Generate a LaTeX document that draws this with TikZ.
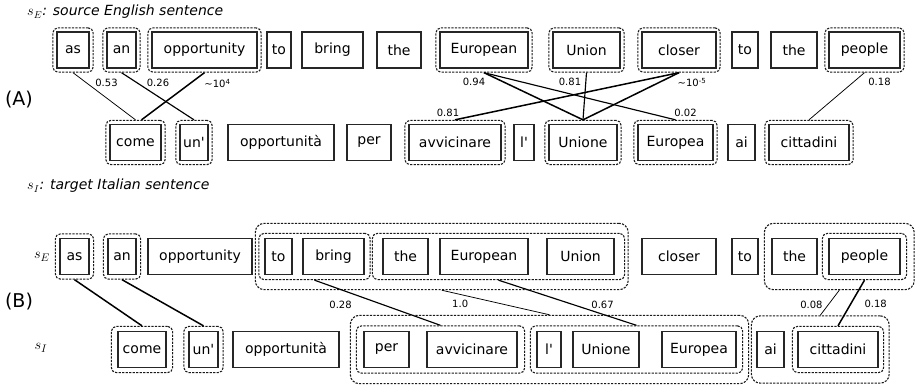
\documentclass[tikz,border=0pt]{standalone}
\usepackage{fontspec}
\setmainfont{DejaVu Sans}
\usepackage{tikz}
\usetikzlibrary{fit}
\tikzset{
  word/.style={rectangle, draw=black!85, line width=1.25pt, minimum height=36pt,
               inner sep=0pt, font=\fontsize{14}{16}\selectfont},
  grp/.style={rectangle, draw=black!90, line width=1.1pt, dash pattern=on 2.2pt off 1.3pt,
              rounded corners=5pt, inner sep=3.5pt},
  biggrp/.style={grp, rounded corners=9pt},
  link/.style={line width=0.75pt},
  mid/.style={line width=1.15pt},
  strong/.style={line width=1.5pt},
  lbl/.style={font=\fontsize{10}{12}\selectfont, inner sep=0pt},
  title/.style={font=\fontsize{14}{16}\selectfont\itshape, anchor=west, inner sep=0pt},
  panel/.style={font=\fontsize{19}{22}\selectfont, inner sep=0pt},
  side/.style={font=\fontsize{15}{17}\selectfont, inner sep=0pt},
}
\begin{document}
\begin{tikzpicture}[x=1pt, y=-1pt]
  \useasboundingbox (0,0) rectangle (916,386);

  % (A) word-level alignment
  \node[title] (tE) at (27,12)  {$s_E$: source English sentence};
  \node[panel] (pA) at (19,100) {(A)};
  \node[title] (tI) at (27,186) {$s_I$: target Italian sentence};

  \node[word, minimum width=32pt]  (A-as)     at (73,50)    {as};
  \node[word, minimum width=29pt]  (A-an)     at (121.5,50) {an};
  \node[word, minimum width=105pt] (A-opp)    at (204.5,50) {opportunity};
  \node[word, minimum width=24pt]  (A-to1)    at (279,50)   {to};
  \node[word, minimum width=61pt]  (A-bring)  at (332.5,50) {bring};
  \node[word, minimum width=44pt]  (A-the1)   at (399,50)   {the};
  \node[word, minimum width=88pt]  (A-euro)   at (484,50)   {European};
  \node[word, minimum width=67pt]  (A-union)  at (586.5,50) {Union};
  \node[word, minimum width=74pt]  (A-closer) at (679,50)   {closer};
  \node[word, minimum width=26pt]  (A-to2)    at (745,50)   {to};
  \node[word, minimum width=46pt]  (A-the2)   at (794,50)   {the};
  \node[word, minimum width=71pt]  (A-people) at (864.5,50) {people};

  \node[word, minimum width=51pt]  (A-come)    at (135.5,142.5) {come};
  \node[word, minimum width=28pt]  (A-un)      at (194,142.5)   {un\textquotesingle};
  \node[word, minimum width=106pt] (A-oppi)    at (281,142.5)   {opportunità};
  \node[word, minimum width=44pt]  (A-per)     at (369,142.5)   {per};
  \node[word, minimum width=92pt]  (A-avv)     at (455,142.5)   {avvicinare};
  \node[word, minimum width=20pt]  (A-l)       at (524,142.5)   {l\textquotesingle};
  \node[word, minimum width=68pt]  (A-unione)  at (583,142.5)   {Unione};
  \node[word, minimum width=75pt]  (A-europea) at (675.5,142.5) {Europea};
  \node[word, minimum width=27pt]  (A-ai)      at (741.5,142.5) {ai};
  \node[word, minimum width=80pt]  (A-citt)    at (809,142.5)   {cittadini};

  \node[grp, fit=(A-as)]      (gA-as)      {};
  \node[grp, fit=(A-an)]      (gA-an)      {};
  \node[grp, fit=(A-opp)]     (gA-opp)     {};
  \node[grp, fit=(A-euro)]    (gA-euro)    {};
  \node[grp, fit=(A-union)]   (gA-union)   {};
  \node[grp, fit=(A-closer)]  (gA-closer)  {};
  \node[grp, fit=(A-people)]  (gA-people)  {};
  \node[grp, fit=(A-come)]    (gA-come)    {};
  \node[grp, fit=(A-un)]      (gA-un)      {};
  \node[grp, fit=(A-avv)]     (gA-avv)     {};
  \node[grp, fit=(A-unione)]  (gA-unione)  {};
  \node[grp, fit=(A-europea)] (gA-europea) {};
  \node[grp, fit=(A-citt)]    (gA-citt)    {};

  \draw[link]   (gA-as.south)  -- node[lbl, pos=0, xshift=33.5pt, yshift=-10pt] {0.53} (gA-come.north);
  \draw[mid]    (gA-an.south)  -- node[lbl, pos=0, xshift=36.5pt, yshift=-10pt] {0.26} (gA-un.north);
  \draw[strong] (gA-opp.south) -- node[lbl, pos=0, xshift=13pt, yshift=-11pt] {\textasciitilde10\textsuperscript{4}} ([xshift=6pt]gA-come.north);
  \draw[strong] (gA-euro.south) -- node[lbl, pos=0, xshift=-10pt, yshift=-9pt] {0.94} (gA-unione.north);
  \draw[mid]    (gA-euro.south) -- node[lbl, pos=1, xshift=10pt, yshift=7pt] {0.02} (gA-europea.north);
  \draw[mid]    (gA-union.south) -- node[lbl, pos=0, xshift=-16.5pt, yshift=-9pt] {0.81} (gA-unione.north);
  \draw[strong] (gA-closer.south) -- node[lbl, pos=1, xshift=-7pt, yshift=7pt] {0.81} (gA-avv.north);
  \draw[strong] (gA-closer.south) -- node[lbl, pos=0, xshift=13pt, yshift=-10pt] {\textasciitilde10\textsuperscript{-5}} (gA-unione.north);
  \draw[link]   (gA-people.south) -- node[lbl, pos=0, xshift=15pt, yshift=-9pt] {0.18} (gA-citt.north);

  % (B) phrase-level alignment
  \node[panel] (pB) at (19,302)  {(B)};
  \node[side]  (sE) at (42,257)  {$s_E$};
  \node[side]  (sI) at (41,348)  {$s_I$};

  \node[word, minimum width=29pt]  (B-as)     at (74.5,256.5)  {as};
  \node[word, minimum width=28pt]  (B-an)     at (122,256.5)   {an};
  \node[word, minimum width=104pt] (B-opp)    at (200,256.5)   {opportunity};
  \node[word, minimum width=27pt]  (B-to1)    at (278.5,256.5) {to};
  \node[word, minimum width=61pt]  (B-bring)  at (333.5,256.5) {bring};
  \node[word, minimum width=45pt]  (B-the1)   at (405.5,256.5) {the};
  \node[word, minimum width=88pt]  (B-euro)   at (484,256.5)   {European};
  \node[word, minimum width=67pt]  (B-union)  at (580.5,256.5) {Union};
  \node[word, minimum width=74pt]  (B-closer) at (679,256.5)   {closer};
  \node[word, minimum width=26pt]  (B-to2)    at (745,256.5)   {to};
  \node[word, minimum width=45pt]  (B-the2)   at (794.5,256.5) {the};
  \node[word, minimum width=71pt]  (B-people) at (864.5,256.5) {people};

  \node[word, minimum width=48pt]  (B-come)    at (142,349.5)   {come};
  \node[word, minimum width=29pt]  (B-un)      at (203.5,349.5) {un\textquotesingle};
  \node[word, minimum width=106pt] (B-oppi)    at (286,349.5)   {opportunità};
  \node[word, minimum width=45pt]  (B-per)     at (386.5,349.5) {per};
  \node[word, minimum width=90pt]  (B-avv)     at (472,349.5)   {avvicinare};
  \node[word, minimum width=24pt]  (B-l)       at (549,349.5)   {l\textquotesingle};
  \node[word, minimum width=66pt]  (B-unione)  at (606,349.5)   {Unione};
  \node[word, minimum width=74pt]  (B-europea) at (699,349.5)   {Europea};
  \node[word, minimum width=27pt]  (B-ai)      at (770.5,349.5) {ai};
  \node[word, minimum width=80pt]  (B-citt)    at (838,349.5)   {cittadini};

  \node[grp, inner sep=4pt, fit=(B-as)] (gB-as) {};
  \node[grp, inner sep=4pt, fit=(B-an)] (gB-an) {};
  \node[grp, inner xsep=5.5pt, inner ysep=4.5pt, fit=(B-to1)(B-bring)]        (gB-tobring) {};
  \node[grp, inner xsep=10pt, inner ysep=4.5pt, fit=(B-the1)(B-euro)(B-union)] (gB-theEU)   {};
  \node[biggrp, inner xsep=3pt, inner ysep=9.5pt, fit=(gB-tobring)(gB-theEU)]  (gB-phrase)  {};
  \node[grp, inner xsep=6pt, inner ysep=4.5pt, fit=(B-people)]                (gB-people)  {};
  \node[biggrp, inner xsep=7pt, inner ysep=9.5pt, fit=(B-the2)(gB-people)]    (gB-thepeople) {};

  \node[grp, inner xsep=6pt, inner ysep=4.5pt, fit=(B-come)] (gB-come) {};
  \node[grp, inner sep=4.5pt, fit=(B-un)]                   (gB-un)   {};
  \node[grp, inner xsep=7pt, inner ysep=5pt, fit=(B-per)(B-avv)]        (gB-peravv) {};
  \node[grp, inner xsep=6pt, inner ysep=5pt, fit=(B-l)(B-europea)]      (gB-lUE)    {};
  \node[biggrp, inner xsep=5.5pt, inner ysep=10pt, fit=(gB-peravv)(gB-lUE)] (gB-frase) {};
  \node[grp, inner xsep=5pt, inner ysep=4.5pt, fit=(B-citt)]            (gB-citt)   {};
  \node[biggrp, inner xsep=5pt, inner ysep=10pt, fit=(B-ai)(gB-citt)]   (gB-aicitt) {};

  \draw[strong] (gB-as.south) -- (gB-come.north);
  \draw[strong] (gB-an.south) -- (gB-un.north);
  \draw[mid]    (gB-tobring.south) -- node[lbl, pos=0.54, xshift=-42pt] {0.28} (gB-peravv.north);
  \draw[link]   (gB-phrase.south)  -- node[lbl, pos=0.57, xshift=-43pt] {1.0}  (gB-frase.north);
  \draw[mid]    (gB-theEU.south)   -- node[lbl, pos=0.54, xshift=29.5pt] {0.67} (gB-lUE.north);
  \draw[link]   (gB-thepeople.south) -- node[lbl, pos=0.57, xshift=-17pt] {0.08} (gB-aicitt.north);
  \draw[strong] (gB-people.south)  -- node[lbl, pos=0.52, xshift=25pt] {0.18} (gB-citt.north);
\end{tikzpicture}
\end{document}
